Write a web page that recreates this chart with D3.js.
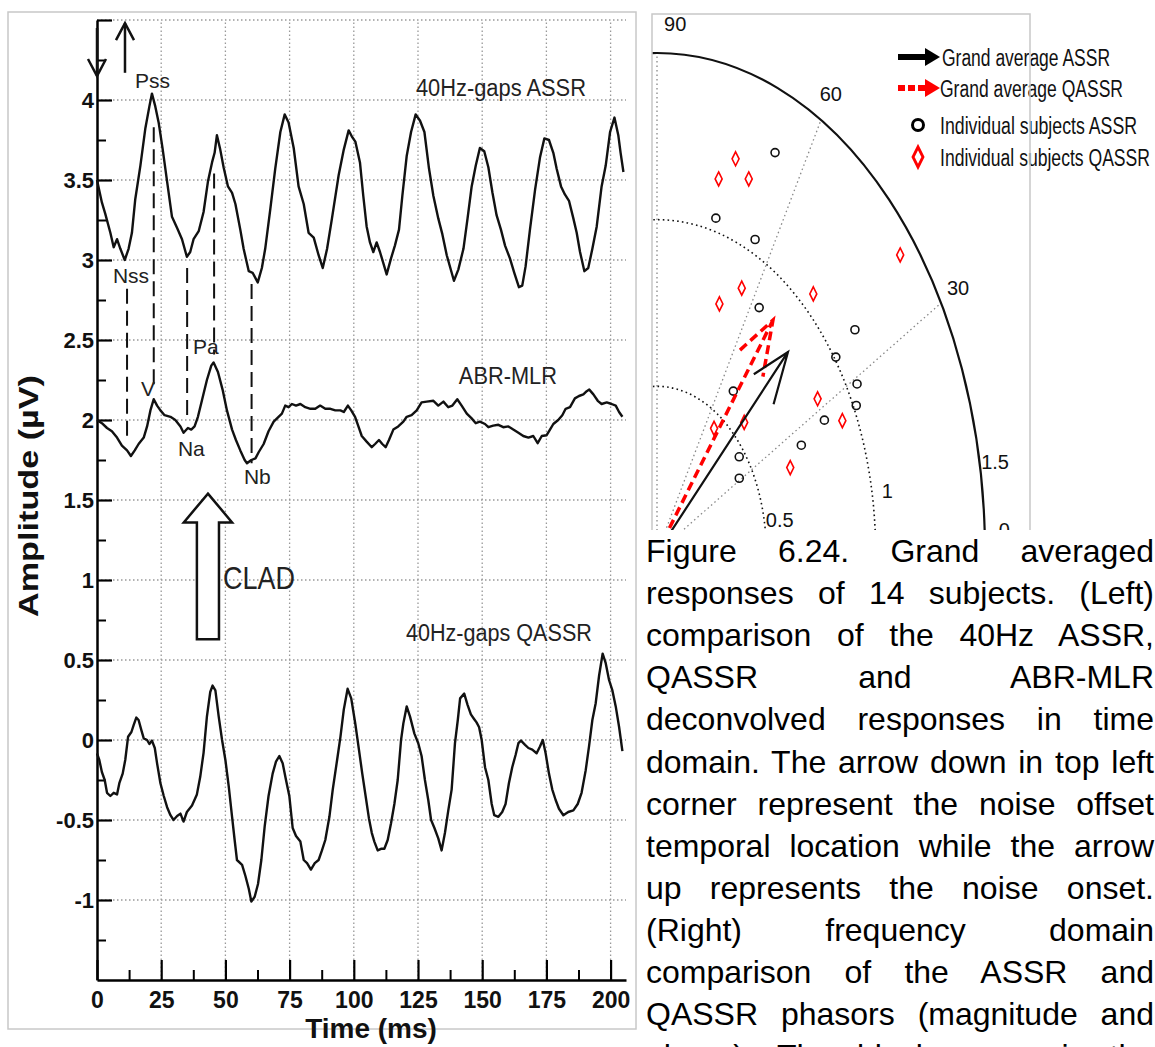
<!DOCTYPE html>
<html><head><meta charset="utf-8">
<script src="https://cdn.jsdelivr.net/npm/d3@7"></script>
<style>body{margin:0;background:#fff}svg{display:block}</style>
</head><body>
<svg id="fig" width="1155" height="1047"></svg>
<script>
// ---------------- DATA ----------------
const timeTicks = [0,25,50,75,100,125,150,175,200];
const timeMinorTicks = [12.5,37.5,62.5,87.5,112.5,137.5,162.5,187.5];
const ampTicks = [-1,-0.5,0,0.5,1,1.5,2,2.5,3,3.5,4,4.5];
const ampMinorTicks = [-1.25,-0.75,-0.25,0.25,0.75,1.25,1.75,2.25,2.75,3.25,3.75,4.25];

const assr = [[0,3.5],[1.9,3.36],[3.2,3.29],[5.2,3.17],[6.5,3.08],[7.8,3.13],[9.1,3.07],[10.8,3.0],[12.3,3.07],[13.6,3.17],[14.9,3.38],[16.9,3.59],[18.8,3.82],[20.4,3.96],[21.4,4.04],[22.7,3.96],[24.0,3.86],[25.6,3.69],[27.3,3.49],[29.2,3.27],[31.2,3.2],[33.1,3.13],[35.0,3.02],[36.3,3.05],[37.6,3.13],[39.6,3.18],[41.5,3.3],[43.2,3.49],[44.8,3.61],[45.8,3.67],[46.7,3.78],[48.0,3.69],[49.3,3.58],[51.0,3.46],[52.6,3.42],[53.9,3.35],[55.8,3.19],[57.1,3.07],[59.1,2.93],[60.6,2.92],[62.6,2.86],[64.2,2.95],[65.5,3.07],[67.5,3.32],[69.4,3.57],[71.4,3.8],[73.1,3.91],[74.6,3.86],[76.6,3.7],[78.5,3.46],[80.5,3.35],[82.4,3.17],[84.4,3.14],[86.3,3.03],[87.9,2.95],[89.6,3.07],[91.5,3.26],[94.1,3.53],[96.1,3.69],[98.0,3.81],[99.3,3.77],[100.6,3.74],[102.4,3.61],[103.7,3.4],[105.0,3.21],[106.3,3.11],[107.6,3.05],[108.9,3.11],[110.2,3.05],[111.5,2.98],[112.8,2.91],[114.5,3.01],[116.0,3.09],[117.6,3.19],[118.9,3.4],[120.6,3.65],[122.3,3.8],[124.1,3.91],[125.8,3.87],[127.5,3.8],[129.3,3.57],[131.0,3.4],[132.9,3.26],[134.5,3.16],[136.2,3.03],[139.0,2.87],[140.7,2.94],[142.7,3.07],[144.3,3.26],[145.9,3.46],[147.5,3.59],[149.1,3.7],[150.8,3.68],[152.4,3.58],[154.0,3.42],[155.6,3.28],[157.3,3.19],[158.9,3.09],[160.8,3.01],[162.5,2.92],[164.3,2.83],[165.6,2.84],[166.9,2.96],[168.6,3.19],[170.6,3.44],[172.5,3.64],[174.2,3.76],[176.0,3.75],[177.7,3.67],[179.0,3.57],[180.7,3.46],[182.2,3.41],[183.8,3.37],[185.5,3.26],[186.8,3.17],[188.1,3.05],[189.8,2.93],[191.3,2.95],[192.9,3.07],[194.6,3.21],[196.5,3.46],[198.1,3.59],[199.8,3.8],[201.5,3.89],[203.0,3.78],[203.9,3.67],[205.0,3.55]];

const abrMlr = [[0,2.0],[1.9,1.98],[3.9,1.95],[5.8,1.93],[7.8,1.89],[9.7,1.84],[11.7,1.81],[13.2,1.775],[14.7,1.81],[16.2,1.85],[18.2,1.89],[19.5,1.96],[20.8,2.06],[22.1,2.13],[23.4,2.09],[24.7,2.06],[26.3,2.03],[28.6,2.02],[30.5,2.0],[32.5,1.96],[33.7,1.92],[35.4,1.95],[36.7,1.94],[38.0,1.96],[39.3,2.02],[40.9,2.125],[42.8,2.25],[44.5,2.34],[45.4,2.36],[47.1,2.3],[48.9,2.19],[50.6,2.06],[52.6,1.94],[54.1,1.875],[55.8,1.81],[57.5,1.75],[58.4,1.73],[60.1,1.75],[61.7,1.76],[63.0,1.8],[64.9,1.85],[66.8,1.93],[68.8,1.99],[70.7,2.02],[72.0,2.04],[73.3,2.09],[74.6,2.08],[75.9,2.1],[77.5,2.09],[79.2,2.1],[81.1,2.08],[83.1,2.07],[85.0,2.07],[86.9,2.09],[88.9,2.07],[90.9,2.07],[92.8,2.06],[94.8,2.06],[96.1,2.05],[97.7,2.09],[99.0,2.06],[100.5,2.02],[101.8,1.96],[103.1,1.9],[105.0,1.865],[107.0,1.83],[108.3,1.85],[109.8,1.875],[111.1,1.85],[112.4,1.83],[113.7,1.875],[115.4,1.94],[117.3,1.96],[119.3,1.99],[120.6,2.02],[122.5,2.03],[124.5,2.06],[126.4,2.11],[128.4,2.115],[131.0,2.12],[132.9,2.09],[134.9,2.115],[136.8,2.08],[138.4,2.09],[140.3,2.13],[142.0,2.09],[144.0,2.04],[145.9,2.01],[147.5,1.98],[149.1,1.99],[151.1,1.975],[152.4,1.955],[154.3,1.965],[156.3,1.97],[158.2,1.955],[160.2,1.96],[162.1,1.94],[164.1,1.92],[166.0,1.9],[168.0,1.89],[169.9,1.9],[171.6,1.855],[173.2,1.9],[175.1,1.905],[176.4,1.94],[177.7,1.975],[179.6,2.0],[181.2,2.03],[182.5,2.07],[184.2,2.08],[186.1,2.135],[187.7,2.15],[189.4,2.16],[190.7,2.18],[191.7,2.19],[193.3,2.16],[195.0,2.12],[196.5,2.1],[198.5,2.11],[200.4,2.1],[202.0,2.09],[203.3,2.05],[204.6,2.02]];

const qassr = [[0,-0.083],[0.9,-0.125],[1.9,-0.2],[3.0,-0.25],[3.9,-0.33],[5.2,-0.35],[6.5,-0.33],[7.8,-0.34],[8.7,-0.27],[10.0,-0.21],[11.0,-0.125],[12.1,0.02],[13.4,0.05],[14.3,0.094],[15.3,0.14],[16.2,0.125],[17.3,0.06],[18.2,0.01],[19.5,0.0],[20.4,-0.025],[21.4,-0.004],[22.5,-0.05],[23.4,-0.146],[24.7,-0.27],[26.0,-0.35],[27.3,-0.42],[28.6,-0.47],[29.8,-0.5],[31.2,-0.475],[32.5,-0.46],[33.7,-0.51],[35.0,-0.45],[37.0,-0.41],[38.9,-0.34],[40.2,-0.23],[41.5,-0.08],[42.8,0.146],[44.1,0.3],[45.0,0.34],[46.1,0.31],[47.4,0.146],[48.7,0.0],[50.0,-0.125],[51.3,-0.29],[52.6,-0.48],[53.6,-0.625],[54.5,-0.75],[56.5,-0.78],[57.8,-0.85],[59.1,-0.93],[60.1,-1.01],[61.4,-0.98],[62.7,-0.9],[64.0,-0.75],[65.3,-0.54],[66.8,-0.35],[68.4,-0.21],[69.7,-0.135],[71.0,-0.1],[72.3,-0.146],[73.6,-0.25],[74.9,-0.35],[76.2,-0.55],[77.5,-0.6],[79.2,-0.635],[80.5,-0.75],[81.8,-0.77],[83.3,-0.81],[84.8,-0.77],[86.3,-0.75],[87.6,-0.69],[88.9,-0.625],[90.5,-0.48],[91.8,-0.31],[93.5,-0.125],[94.8,0.02],[96.1,0.19],[97.6,0.32],[99.0,0.26],[100.6,0.1],[102.0,-0.06],[103.3,-0.21],[104.6,-0.35],[105.9,-0.49],[107.0,-0.58],[108.0,-0.635],[109.3,-0.69],[110.6,-0.68],[111.9,-0.68],[113.2,-0.625],[114.5,-0.52],[115.8,-0.4],[117.1,-0.25],[118.4,0.0],[119.3,0.104],[120.6,0.21],[121.9,0.146],[123.6,0.04],[125.1,-0.02],[126.4,-0.1],[127.7,-0.25],[129.0,-0.375],[130.1,-0.5],[131.4,-0.55],[132.9,-0.615],[134.2,-0.69],[135.5,-0.58],[136.8,-0.44],[138.1,-0.31],[139.4,-0.02],[140.5,0.125],[141.4,0.26],[143.0,0.29],[144.3,0.22],[145.6,0.16],[146.9,0.13],[147.8,0.11],[148.8,0.08],[149.8,0.0],[151.1,-0.17],[152.4,-0.25],[153.7,-0.4],[154.7,-0.47],[156.3,-0.48],[157.8,-0.45],[159.1,-0.4],[160.4,-0.27],[161.7,-0.17],[163.0,-0.094],[164.1,-0.02],[165.1,-0.004],[166.7,-0.03],[168.0,-0.05],[169.5,-0.06],[171.2,-0.083],[172.5,-0.04],[173.6,0.0],[174.7,-0.083],[176.0,-0.21],[177.3,-0.31],[178.6,-0.375],[179.9,-0.43],[181.6,-0.47],[183.5,-0.45],[185.5,-0.44],[187.2,-0.4],[188.7,-0.33],[190.3,-0.19],[191.6,-0.04],[192.9,0.125],[194.2,0.23],[195.5,0.4],[196.9,0.54],[198.1,0.48],[199.4,0.375],[200.7,0.31],[202.0,0.21],[203.3,0.083],[204.6,-0.07]];

// peak markers: [time, from amplitude, to amplitude]
const peakMarkers = [[11.7,2.82,1.88],[22.1,3.83,2.2],[35.1,2.95,2.0],[45.6,3.54,2.41],[60.2,2.85,1.73]];
// peak / curve labels: [text, time, amplitude, anchor]
const curveLabels = [["Pss",14.8,4.077,"start"],["Nss",6.2,2.858,"start"],["V",17.1,2.152,"start"],["Pa",37.4,2.415,"start"],["Na",31.5,1.777,"start"],["Nb",57.2,1.602,"start"]];
const traceTitles = [["40Hz-gaps ASSR",157.3,4.027,170],["ABR-MLR",160.0,2.227,98],["40Hz-gaps QASSR",156.5,0.62,186]];
// noise offset (down) and onset (up) arrows: [time, from, to]
const noiseArrows = [[0,4.45,4.15],[10.9,4.17,4.48]];
// CLAD arrow in data units
const cladTip = [43.2,1.54], cladHeadBase = 1.36, cladHeadHalf = 9.4, cladShaftHalf = 4.3, cladTail = 0.63;

// Polar (magnitude, phase deg)
const polarRings = [0.5,1,1.5];
const polarAngles = [0,30,60,90];
const assrSubjects = [[1.317,65.8],[1.040,75.0],[1.042,64.5],[0.872,57.6],[1.126,36.5],[1.007,35.7],[1.046,29.0],[1.013,25.9],[0.863,27.5],[0.598,54.3],[0.735,26.1],[0.474,37.5],[0.438,30.8]];
const qassrSubjects = [[1.236,73.1],[1.157,75.9],[1.198,69.5],[1.427,38.8],[0.884,64.0],[0.800,69.1],[1.056,47.4],[0.868,32.2],[0.936,25.1],[0.456,55.1],[0.559,44.5],[0.661,22.8]];
const grandAssr = [0.850,45.2];
const grandQassr = [0.877,52.8];
const legendLabels = ["Grand average ASSR","Grand average QASSR","Individual subjects ASSR","Individual subjects QASSR"];

const captionLines = [
 "Figure 6.24. Grand averaged",
 "responses of 14 subjects. (Left)",
 "comparison of the 40Hz ASSR,",
 "QASSR and ABR-MLR",
 "deconvolved responses in time",
 "domain. The arrow down in top left",
 "corner represent the noise offset",
 "temporal location while the arrow",
 "up represents the noise onset.",
 "(Right) frequency domain",
 "comparison of the ASSR and",
 "QASSR phasors (magnitude and",
 "phase). The black arrow is the"
];

// ---------------- DRAW ----------------
const fNarrow = "'Liberation Sans Narrow','Arial Narrow','Liberation Sans',Arial,sans-serif";
const fSans = "'Liberation Sans',Arial,Helvetica,sans-serif";
const svg = d3.select("#fig");
svg.append("rect").attr("width",1155).attr("height",1047).attr("fill","#fff");

// left panel frame
svg.append("rect").attr("x",8).attr("y",12).attr("width",628).attr("height",1017)
  .attr("fill","none").attr("stroke","#c8c8c8").attr("stroke-width",1.5);

const x = d3.scaleLinear().domain([0,206]).range([97,626]);
const y = d3.scaleLinear().domain([-1.5,4.5]).range([980,20]);

const L = svg.append("g");
// grid
L.append("g").selectAll("line").data(ampTicks).join("line")
  .attr("x1",x(0)).attr("x2",x(206)).attr("y1",d=>y(d)).attr("y2",d=>y(d))
  .attr("stroke","#999").attr("stroke-width",1.3).attr("stroke-dasharray","1.5,2.5");
L.append("g").selectAll("line").data(timeTicks.filter(d=>d>0)).join("line")
  .attr("x1",d=>x(d)).attr("x2",d=>x(d)).attr("y1",y(-1.5)).attr("y2",y(4.5))
  .attr("stroke","#999").attr("stroke-width",1.3).attr("stroke-dasharray","1.5,2.5");

// axes
function styleAxis(g, w){
  g.selectAll(".domain").attr("stroke","#000").attr("stroke-width",2.5);
  g.selectAll(".tick line").attr("stroke","#000").attr("stroke-width",w);
}
const yAx = L.append("g").attr("transform",`translate(${x(0)},0)`)
  .call(d3.axisLeft(y).tickValues(ampTicks).tickSizeInner(-15).tickSizeOuter(0).tickPadding(3)
    .tickFormat(d=> d===4.5 ? "" : String(d)));
styleAxis(yAx,2.2);
yAx.selectAll("text").attr("font-family",fSans).attr("font-size",22).attr("font-weight","bold").attr("fill","#111");
const yMin = L.append("g").attr("transform",`translate(${x(0)},0)`)
  .call(d3.axisLeft(y).tickValues(ampMinorTicks).tickSizeInner(-9).tickSizeOuter(0).tickFormat(""));
yMin.select(".domain").remove(); styleAxis(yMin,2);

const xAx = L.append("g").attr("transform",`translate(0,${y(-1.5)})`)
  .call(d3.axisBottom(x).tickValues(timeTicks).tickSizeInner(-20).tickSizeOuter(0).tickPadding(12));
styleAxis(xAx,2.2);
xAx.selectAll("text").attr("font-family",fNarrow).attr("font-size",23).attr("font-weight","bold").attr("fill","#111");
const xMin = L.append("g").attr("transform",`translate(0,${y(-1.5)})`)
  .call(d3.axisBottom(x).tickValues(timeMinorTicks).tickSizeInner(-10).tickSizeOuter(0).tickFormat(""));
xMin.select(".domain").remove(); styleAxis(xMin,2);

// axis titles
L.append("text").attr("x",371).attr("y",1038).attr("text-anchor","middle")
  .attr("font-family",fSans).attr("font-size",28).attr("font-weight","bold").attr("fill","#111")
  .text("Time (ms)");
L.append("text").attr("transform","translate(38,496) rotate(-90)").attr("text-anchor","middle")
  .attr("font-family",fSans).attr("font-size",27).attr("font-weight","bold").attr("fill","#111")
  .attr("textLength",242).attr("lengthAdjust","spacingAndGlyphs")
  .text("Amplitude (µV)");

// curves
const line = d3.line().x(d=>x(d[0])).y(d=>y(d[1]));
[assr, abrMlr, qassr].forEach(s=>{
  L.append("path").attr("d",line(s)).attr("fill","none").attr("stroke","#111")
   .attr("stroke-width",2.4).attr("stroke-linejoin","round");
});

// peak markers
L.append("g").selectAll("line").data(peakMarkers).join("line")
  .attr("x1",d=>x(d[0])).attr("x2",d=>x(d[0])).attr("y1",d=>y(d[1])).attr("y2",d=>y(d[2]))
  .attr("stroke","#111").attr("stroke-width",2).attr("stroke-dasharray","15,7");

// labels
L.append("g").selectAll("text").data(curveLabels).join("text")
  .attr("x",d=>x(d[1])).attr("y",d=>y(d[2])).attr("text-anchor",d=>d[3])
  .attr("font-family",fNarrow).attr("font-size",21).attr("fill","#222").text(d=>d[0]);
L.append("g").selectAll("text").data(traceTitles).join("text")
  .attr("x",d=>x(d[1])).attr("y",d=>y(d[2])).attr("text-anchor","middle")
  .attr("font-family",fNarrow).attr("font-size",23).attr("fill","#222")
  .attr("textLength",d=>d[3]).attr("lengthAdjust","spacingAndGlyphs").text(d=>d[0]);

// noise arrows
noiseArrows.forEach(([t,v0,v1])=>{
  const px=x(t), y0=y(v0), y1=y(v1), s = y1>y0 ? -1 : 1;
  L.append("line").attr("x1",px).attr("x2",px).attr("y1",y0).attr("y2",y1).attr("stroke","#111").attr("stroke-width",2.5);
  L.append("path").attr("d",`M${px-9},${y1+s*17}L${px},${y1}L${px+9},${y1+s*17}`)
    .attr("fill","none").attr("stroke","#111").attr("stroke-width",2.5);
});

// CLAD arrow
{
  const [tt,tv]=cladTip;
  const pts=[[tt,tv],[tt+cladHeadHalf,cladHeadBase],[tt+cladShaftHalf,cladHeadBase],[tt+cladShaftHalf,cladTail],
             [tt-cladShaftHalf,cladTail],[tt-cladShaftHalf,cladHeadBase],[tt-cladHeadHalf,cladHeadBase]];
  L.append("path").attr("d",d3.line().x(d=>x(d[0])).y(d=>y(d[1]))(pts)+"Z")
   .attr("fill","#fff").attr("stroke","#111").attr("stroke-width",2.5).attr("stroke-linejoin","miter");
  L.append("text").attr("x",x(49.1)).attr("y",y(0.946)).attr("font-family",fNarrow).attr("font-size",31)
   .attr("fill","#222").attr("textLength",72).attr("lengthAdjust","spacingAndGlyphs").text("CLAD");
}

// ---------------- POLAR ----------------
const pcx=657, pcy=553;
const rX = d3.scaleLinear().domain([0,1.5]).range([0,328]);
const rY = d3.scaleLinear().domain([0,1.5]).range([0,500]);
const P = (r,deg)=>{const a=deg*Math.PI/180; return [pcx+rX(r*Math.cos(a)), pcy-rY(r*Math.sin(a))];};
const XY = (px,py)=>[pcx+rX(px), pcy-rY(py)];

svg.append("clipPath").attr("id","pclip").append("rect").attr("x",652).attr("y",14).attr("width",378).attr("height",516);
const R = svg.append("g").attr("clip-path","url(#pclip)");

R.selectAll("line.rad").data(polarAngles).join("line").attr("class","rad")
  .attr("x1",pcx).attr("y1",pcy).attr("x2",d=>P(1.5,d)[0]).attr("y2",d=>P(1.5,d)[1])
  .attr("stroke","#888").attr("stroke-width",1.3).attr("stroke-dasharray","1.5,3");
R.selectAll("ellipse").data(polarRings).join("ellipse")
  .attr("cx",pcx).attr("cy",pcy).attr("rx",d=>rX(d)).attr("ry",d=>rY(d)).attr("fill","none")
  .attr("stroke","#111").attr("stroke-width",d=>d===1.5?2.2:1.6)
  .attr("stroke-dasharray",d=>d===1.5?null:"1.6,3.2");

// angle labels
R.selectAll("text.ang").data(polarAngles).join("text").attr("class","ang")
  .attr("x",d=>P(1.59,Math.min(Math.max(d,2.5),87))[0]).attr("y",d=>P(1.59,Math.min(Math.max(d,2.5),87))[1]+7)
  .attr("text-anchor","middle").attr("font-family",fNarrow).attr("font-size",20).attr("fill","#111").text(d=>d);
R.selectAll("text.ring").data(polarRings).join("text").attr("class","ring")
  .attr("x",d=>P(d+0.07,10)[0]).attr("y",d=>P(d+0.07,10)[1]+7)
  .attr("text-anchor","middle").attr("font-family",fNarrow).attr("font-size",20).attr("fill","#111").text(d=>d);

// subjects
R.selectAll("circle").data(assrSubjects).join("circle")
  .attr("cx",d=>P(d[0],d[1])[0]).attr("cy",d=>P(d[0],d[1])[1]).attr("r",4)
  .attr("fill","none").attr("stroke","#111").attr("stroke-width",1.6);
R.selectAll("path.dia").data(qassrSubjects).join("path").attr("class","dia")
  .attr("d",d=>{const [a,b]=P(d[0],d[1]); return `M${a},${b-7}L${a+3.5},${b}L${a},${b+7}L${a-3.5},${b}Z`;})
  .attr("fill","none").attr("stroke","#f00").attr("stroke-width",1.6);

// compass arrows
function arrow(mag, deg){
  const a=deg*Math.PI/180, hx=mag*Math.cos(a), hy=mag*Math.sin(a), Lb=0.2*mag, w=22*Math.PI/180;
  const b1=[hx+Lb*Math.cos(a+Math.PI-w), hy+Lb*Math.sin(a+Math.PI-w)];
  const b2=[hx+Lb*Math.cos(a+Math.PI+w), hy+Lb*Math.sin(a+Math.PI+w)];
  const p=d=>XY(d[0],d[1]).join(",");
  return `M${p([0,0])}L${p([hx,hy])}M${p(b1)}L${p([hx,hy])}L${p(b2)}`;
}
R.append("path").attr("d",arrow(grandQassr[0],grandQassr[1])).attr("fill","none")
  .attr("stroke","#f00").attr("stroke-width",3.5).attr("stroke-dasharray","9,5");
R.append("path").attr("d",arrow(grandAssr[0],grandAssr[1])).attr("fill","none")
  .attr("stroke","#111").attr("stroke-width",2.2);

// legend
const lg = svg.append("g");
const lgY = [57,88,125,157], lgW=[168,183,197,210];
lg.append("line").attr("x1",898).attr("x2",928).attr("y1",lgY[0]).attr("y2",lgY[0]).attr("stroke","#000").attr("stroke-width",6);
lg.append("path").attr("d",`M925,${lgY[0]-9}L940,${lgY[0]}L925,${lgY[0]+9}Z`).attr("fill","#000");
lg.append("line").attr("x1",898).attr("x2",928).attr("y1",lgY[1]).attr("y2",lgY[1]).attr("stroke","#f00").attr("stroke-width",6).attr("stroke-dasharray","7,3");
lg.append("path").attr("d",`M925,${lgY[1]-9}L940,${lgY[1]}L925,${lgY[1]+9}Z`).attr("fill","#f00");
lg.append("circle").attr("cx",918).attr("cy",lgY[2]).attr("r",5.5).attr("fill","none").attr("stroke","#000").attr("stroke-width",3);
lg.append("path").attr("d",`M918,${lgY[3]-10}L923,${lgY[3]}L918,${lgY[3]+10}L913,${lgY[3]}Z`).attr("fill","none").attr("stroke","#f00").attr("stroke-width",2.8);
lg.selectAll("text").data(legendLabels).join("text")
  .attr("x",(d,i)=>i===0?942:940).attr("y",(d,i)=>lgY[i]+9)
  .attr("font-family",fNarrow).attr("font-size",23).attr("fill","#111")
  .attr("textLength",(d,i)=>lgW[i]).attr("lengthAdjust","spacingAndGlyphs").text(d=>d);

// polar frame
svg.append("path").attr("d","M652,530V14H1030V530").attr("fill","none").attr("stroke","#c8c8c8").attr("stroke-width",1.5);

// caption (justified)
const capX=646, capW=508;
captionLines.forEach((s,i)=>{
  const t = svg.append("text").attr("x",capX).attr("y",562+42.1*i)
    .attr("font-family",fSans).attr("font-size",32).attr("fill","#000").text(s);
  const len = t.node().getComputedTextLength();
  const n = (s.match(/ /g)||[]).length;
  if(n>0) t.style("word-spacing", ((capW-len)/n)+"px");
});
</script>
</body></html>
